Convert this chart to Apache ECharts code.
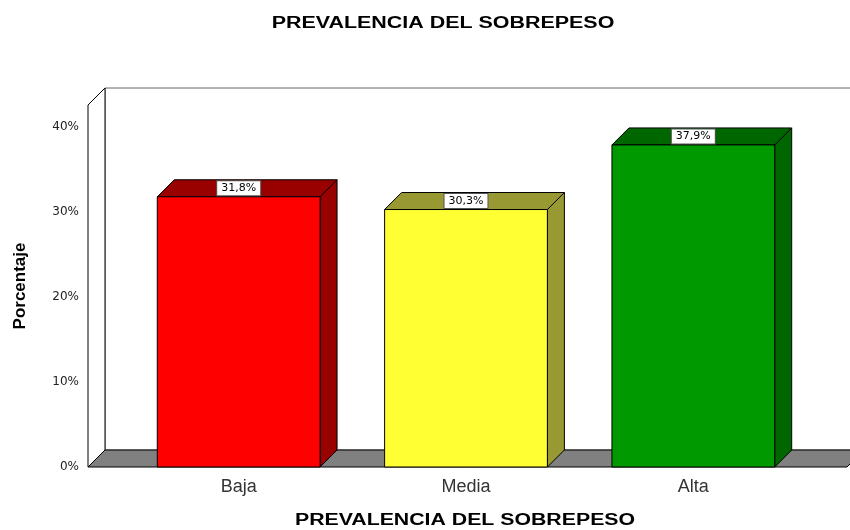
<!DOCTYPE html>
<html>
<head>
<meta charset="utf-8">
<script src="https://cdn.jsdelivr.net/npm/echarts@6/dist/echarts.min.js"></script>
<style>
  html, body { margin: 0; padding: 0; background: #fff; }
  #chart { width: 850px; height: 530px; }
</style>
</head>
<body>
<div id="chart"></div>
<script>
// datos
const categories = ['Baja', 'Media', 'Alta'];
const values = [31.8, 30.3, 37.9];

// colores: cara frontal / cara oscura (arriba y lado)
const frontColors = ['#ff0000', '#ffff33', '#009900'];
const darkColors = ['#990000', '#999933', '#006600'];

const DEPTH = 17; // profundidad 3D en px
const FONT = "'Liberation Sans', Arial, sans-serif";
const WIDE = "'DejaVu Sans', sans-serif";
const TITLE = 'PREVALENCIA DEL SOBREPESO';

const chart = echarts.init(document.getElementById('chart'));

// paredes y piso
const renderFrame = (params, api) => {
  const cs = params.coordSys;
  const y0 = api.coord([0, 0])[1];
  const x0 = cs.x - 37;
  const x1 = cs.x + cs.width + 40;
  const top = cs.y;
  const line = { stroke: '#000', lineWidth: 1 };
  return {
    type: 'group',
    children: [
      { type: 'rect', shape: { x: x0 + DEPTH, y: top - DEPTH, width: x1 - x0, height: y0 - top },
        style: Object.assign({ fill: '#fff' }, line, { stroke: '#666' }) },
      { type: 'polygon', shape: { points: [[x0, top], [x0 + DEPTH, top - DEPTH], [x0 + DEPTH, y0 - DEPTH], [x0, y0]] },
        style: Object.assign({ fill: '#fff' }, line) },
      { type: 'polygon', shape: { points: [[x0, y0], [x0 + DEPTH, y0 - DEPTH], [x1 + DEPTH, y0 - DEPTH], [x1, y0]] },
        style: Object.assign({ fill: '#808080' }, line) }
    ]
  };
};

// barras 3D
const renderBar = (params, api) => {
  const idx = api.value(0);
  const val = api.value(1);
  const p = api.coord([idx, val]);
  const base = api.coord([idx, 0]);
  const w = api.size([1, 0])[0] * 0.716;
  const l = p[0] - w / 2, r = p[0] + w / 2, t = p[1], b = base[1];
  const line = { stroke: '#000', lineWidth: 1 };
  return {
    type: 'group',
    children: [
      { type: 'polygon', shape: { points: [[r, t], [r + DEPTH, t - DEPTH], [r + DEPTH, b - DEPTH], [r, b]] },
        style: Object.assign({ fill: darkColors[idx] }, line) },
      { type: 'polygon', shape: { points: [[l, t], [l + DEPTH, t - DEPTH], [r + DEPTH, t - DEPTH], [r, t]] },
        style: Object.assign({ fill: darkColors[idx] }, line) },
      { type: 'rect', shape: { x: l, y: t, width: w, height: b - t },
        style: Object.assign({ fill: frontColors[idx] }, line) },
      { type: 'text', x: p[0], y: t - DEPTH / 2,
        style: {
          text: val.toFixed(1).replace('.', ',') + '%',
          font: '11px ' + WIDE, fill: '#000',
          align: 'center', verticalAlign: 'middle',
          backgroundColor: '#fff', borderColor: '#555', borderWidth: 1,
          padding: [2, 4, 1, 4]
        } }
    ]
  };
};

const option = {
  animation: false,
  graphic: [
    { type: 'text', x: 443, y: 24, scaleX: 1.34,
      style: { text: TITLE, font: 'bold 16px ' + FONT, fill: '#000', align: 'center', verticalAlign: 'middle' } },
    { type: 'text', x: 465, y: 521, scaleX: 1.33,
      style: { text: TITLE, font: 'bold 16px ' + FONT, fill: '#000', align: 'center', verticalAlign: 'middle' } }
  ],
  grid: { left: 125, right: 43, top: 105, bottom: 63, outerBoundsMode: 'none' },
  xAxis: {
    type: 'category',
    data: categories,
    axisLine: { show: false },
    axisTick: { show: false },
    axisLabel: { fontFamily: FONT, fontSize: 18, color: '#333', margin: 11 }
  },
  yAxis: {
    type: 'value',
    min: 0,
    max: 42.6,
    interval: 10,
    axisLine: { show: false },
    axisTick: { show: false },
    splitLine: { show: false },
    axisLabel: {
      formatter: '{value}%', showMaxLabel: false,
      fontFamily: WIDE, fontSize: 12, color: '#222', margin: 46
    },
    name: 'Porcentaje',
    nameLocation: 'middle',
    nameRotate: 90,
    nameGap: 96,
    nameTextStyle: { fontFamily: FONT, fontSize: 17, fontWeight: 'bold', color: '#000' }
  },
  series: [
    {
      type: 'custom',
      renderItem: renderFrame,
      data: [[0, 0]],
      silent: true,
      z: 1
    },
    {
      type: 'custom',
      renderItem: renderBar,
      data: values.map((v, i) => [i, v]),
      z: 2
    }
  ]
};

chart.setOption(option);
</script>
</body>
</html>
